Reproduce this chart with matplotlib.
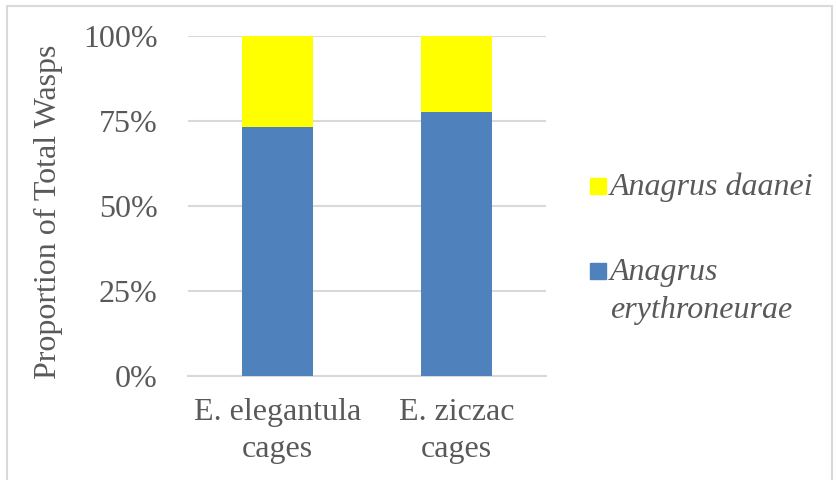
import matplotlib.pyplot as plt
from matplotlib.patches import Rectangle

# data
categories = ["E. elegantula\ncages", "E. ziczac\ncages"]
erythroneurae = [73.3, 77.7]
daanei = [26.7, 22.3]
series_names = ["Anagrus daanei", "Anagrus\nerythroneurae"]
series_colors = ["#ffff00", "#4f81bd"]
yticks = [0, 25, 50, 75, 100]
ytick_labels = ["0%", "25%", "50%", "75%", "100%"]

text_col = "#595959"
grid_col = "#d9d9d9"
fs = 23
plt.rcParams['font.family'] = 'serif'
plt.rcParams['font.serif'] = ['Liberation Serif', 'DejaVu Serif']

W, H = 836, 480
fig = plt.figure(figsize=(W / 100, H / 100), dpi=100)
ax = fig.add_axes([188 / W, 1 - 376 / H, 358 / W, (376 - 35.7) / H])

x = range(len(categories))
ax.bar(x, erythroneurae, width=0.4, color=series_colors[1], zorder=3)
ax.bar(x, daanei, width=0.4, bottom=erythroneurae, color=series_colors[0], zorder=3)

ax.set_xlim(-0.5, 1.5)
ax.set_ylim(0, 100)
ax.set_yticks(yticks)
ax.set_yticklabels(ytick_labels)
ax.set_xticks(list(x))
ax.set_xticklabels(categories, linespacing=1.35)
for sp in ax.spines.values():
    sp.set_visible(False)
ax.grid(axis='y', color=grid_col, linewidth=1.5, zorder=0)
ax.set_axisbelow(True)
ax.tick_params(axis='both', length=0, labelsize=fs, labelcolor=text_col)
ax.tick_params(axis='y', pad=22)
ax.tick_params(axis='x', pad=16)
ax.axhline(0, color=grid_col, linewidth=1.5, zorder=1, clip_on=False)

fig.text(48 / W, 1 - 212 / H, "Proportion of Total Wasps", rotation=90,
         ha='center', va='center', fontsize=fs, color=text_col)

# legend drawn by hand so the square sits on the first text line
leg_y = [186, 271]
for name, col, yc in zip(series_names, series_colors, leg_y):
    fig.patches.append(Rectangle((590 / W, 1 - (yc + 8) / H), 16 / W, 16 / H,
                                 transform=fig.transFigure, color=col))
    for i, line in enumerate(name.split("\n")):
        fig.text(610 / W, 1 - (yc + 9 + 38 * i) / H, line, ha='left',
                 va='baseline', fontsize=fs, style='italic', color=text_col)

# chart area border
fig.patches.append(Rectangle((6.5 / W, -0.1), (W - 4 - 6.5) / W, 1.1 - 5.5 / H,
                             transform=fig.transFigure, fill=False,
                             edgecolor=grid_col, linewidth=1.5))

fig.savefig("out.png", dpi=100)
